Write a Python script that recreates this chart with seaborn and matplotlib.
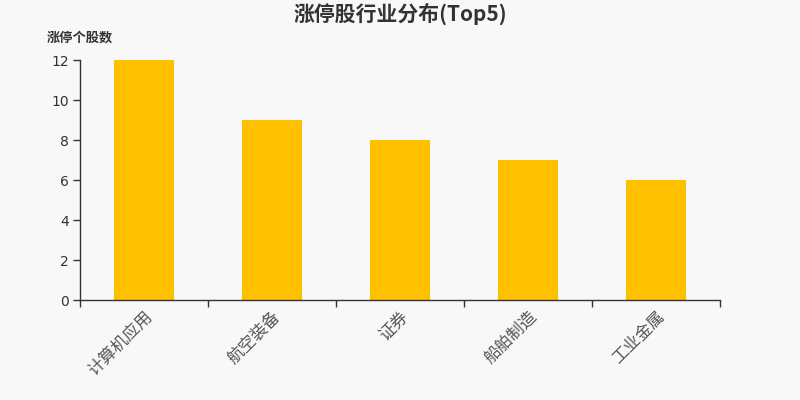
import matplotlib
matplotlib.use("Agg")
import matplotlib.pyplot as plt
import seaborn as sns
import pandas as pd
from matplotlib.ticker import FixedLocator

categories = ["计算机应用", "航空装备", "证券", "船舶制造", "工业金属"]
counts = [12, 9, 8, 7, 6]
title = "涨停股行业分布(Top5)"
ylabel = "涨停个股数"

sns.set_theme(style="ticks")
plt.rcParams['font.family'] = ['Noto Sans CJK SC', 'DejaVu Sans']

df = pd.DataFrame({"cat": categories, "n": counts})
bg = "#f8f8f8"
fig = plt.figure(figsize=(8, 4), dpi=100, facecolor=bg)
ax = fig.add_axes([0.1, 0.25, 0.8, 0.6])
ax.set_facecolor(bg)
sns.barplot(data=df, x="cat", y="n", color="#FFC000", width=0.47, saturation=1,
            linewidth=0, edgecolor="none", ax=ax)

ax.set_xlim(-0.5, len(categories) - 0.5)
ax.set_ylim(0, 12)
ax.set_yticks([0, 2, 4, 6, 8, 10, 12])
ax.set_yticklabels([str(v) for v in [0, 2, 4, 6, 8, 10, 12]], family=['DejaVu Sans'], fontsize=10, color="#333333")
ax.set_xticks([i for i in range(len(categories))])
ax.set_xticklabels(categories, rotation=45, ha="right", rotation_mode="anchor", fontsize=12, color="#555555")
ax.tick_params(axis="x", length=0, pad=6)
ax.xaxis.set_minor_locator(FixedLocator([i - 0.5 for i in range(len(categories) + 1)]))
ax.tick_params(axis="x", which="minor", length=5, color="#333333", width=1)
ax.tick_params(axis="y", length=5, color="#333333", width=1, pad=3)
ax.set_xlabel("")
ax.set_ylabel("")
for s in ["top", "right"]:
    ax.spines[s].set_visible(False)
for s in ["left", "bottom"]:
    ax.spines[s].set_color("#333333")
    ax.spines[s].set_linewidth(1)

fig.text(0.5, 0.965, title, ha="center", va="center", fontsize=15, fontweight="bold", color="#333333")
fig.text(0.059, 0.905, ylabel, ha="left", va="center", fontsize=9.5, fontweight="bold", color="#333333")

fig.savefig("out.png", dpi=100, facecolor=bg)
